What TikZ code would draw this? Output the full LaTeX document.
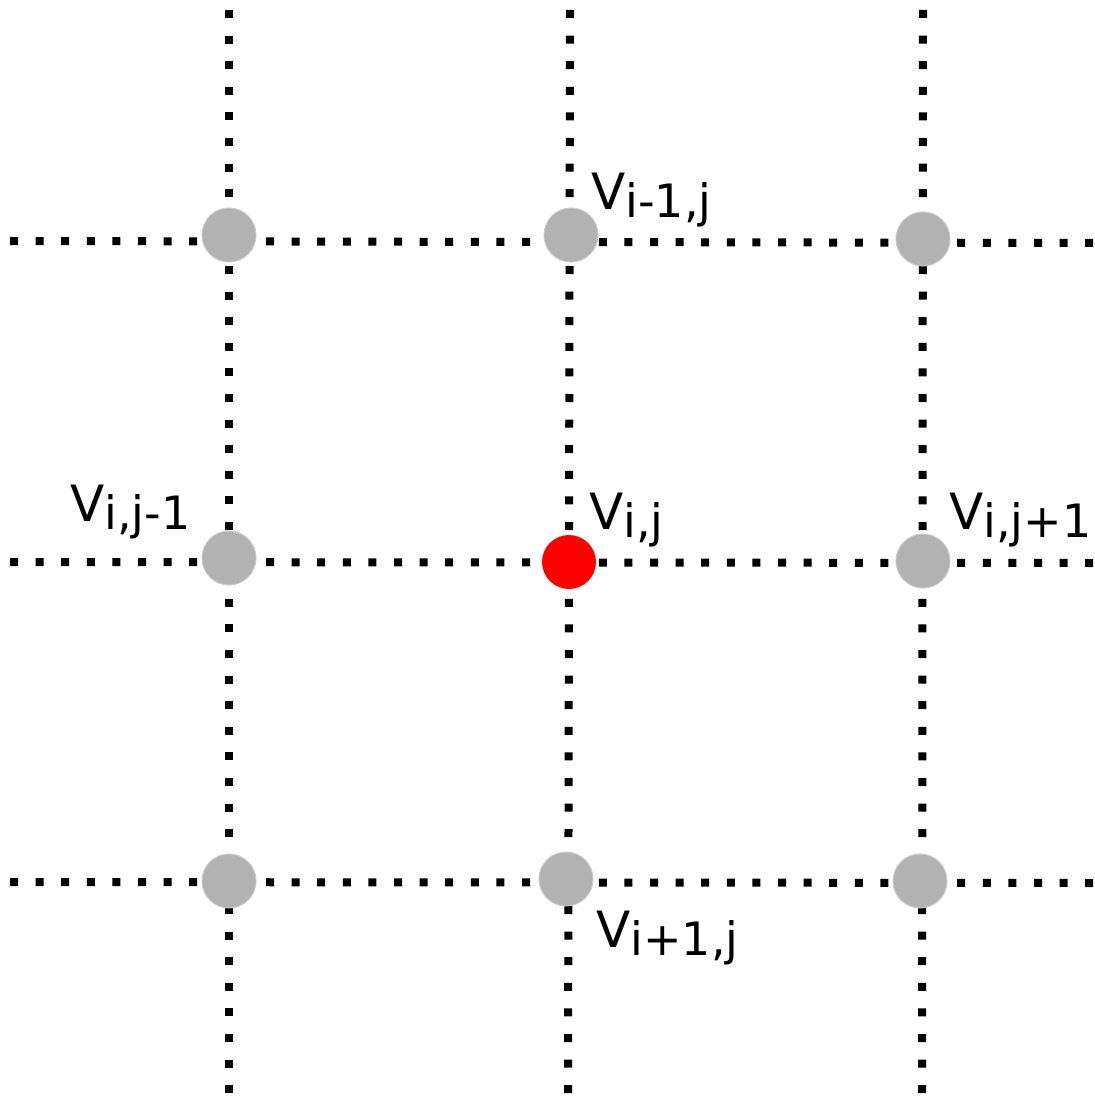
\documentclass[tikz,border=0pt]{standalone}
\usepackage{fontspec}
\setmainfont{DejaVu Sans}
\definecolor{nodegray}{RGB}{178,178,178}
\definecolor{nodered}{RGB}{255,0,0}
\newcommand{\vlab}[1]{V\raisebox{-8pt}{\fontsize{46}{46}\selectfont #1}}
\tikzset{
  gridline/.style={line width=8pt, line cap=butt, dash pattern=on 8pt off 17.6pt, black},
  vtx/.style={circle, fill=nodegray, draw=nodegray!70!white, line width=1pt, minimum size=54pt, inner sep=0pt},
  cur/.style={circle, fill=nodered, minimum size=54pt, inner sep=0pt},
  lbl/.style={anchor=base west, inner sep=0pt, font=\fontsize{50}{50}\selectfont}
}
\begin{document}
\begin{tikzpicture}[x=1pt,y=-1pt]
\useasboundingbox (0,0) rectangle (1094,1099);
% line end coordinates
\coordinate (h1a) at (10,241);  \coordinate (h1b) at (1094,243);
\coordinate (h2a) at (10,562);  \coordinate (h2b) at (1094,563);
\coordinate (h3a) at (10,882);  \coordinate (h3b) at (1094,883);
\coordinate (v1a) at (229,10);  \coordinate (v1b) at (229,1099);
\coordinate (v2a) at (570,10);  \coordinate (v2b) at (568,1099);
\coordinate (v3a) at (923,10);  \coordinate (v3b) at (922,1099);
\draw[gridline] (h1a) -- (h1b);
\draw[gridline] (h2a) -- (h2b);
\draw[gridline] (h3a) -- (h3b);
\draw[gridline] (v1a) -- (v1b);
\draw[gridline] (v2a) -- (v2b);
\draw[gridline] (v3a) -- (v3b);
% vertices
\node[vtx] (n11) at (229,235) {};
\node[vtx] (n12) at (571,235) {};
\node[vtx] (n13) at (923,239) {};
\node[vtx] (n21) at (229,558) {};
\node[cur] (n22) at (569,562) {};
\node[vtx] (n23) at (923,561) {};
\node[vtx] (n31) at (229,881) {};
\node[vtx] (n32) at (566,879) {};
\node[vtx] (n33) at (920,881) {};
% labels
\node[lbl] (l12) at (591,210) {\vlab{i-1,j}};
\node[lbl] (l21) at (70,521) {\vlab{i,j-1}};
\node[lbl] (l22) at (589,529) {\vlab{i,j}};
\node[lbl] (l23) at (949,529) {\vlab{i,j+1}};
\node[lbl] (l32) at (596,947) {\vlab{i+1,j}};
\end{tikzpicture}
\end{document}
